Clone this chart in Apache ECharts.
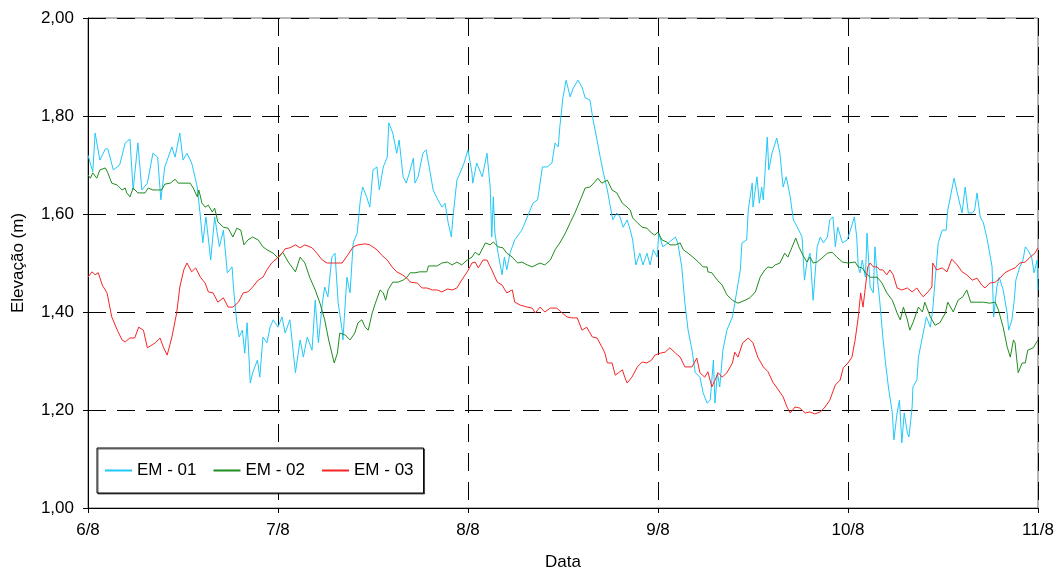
<!DOCTYPE html>
<html>
<head>
<meta charset="utf-8">
<title>Elevação - EM-01, EM-02, EM-03</title>
<script src="https://cdn.jsdelivr.net/npm/echarts@6/dist/echarts.min.js"></script>
<style>
  html, body { margin: 0; padding: 0; background: #fff; }
  #chart { width: 1060px; height: 569px; }
</style>
</head>
<body>
<div id="chart"></div>
<script>
// Day labels on the time axis (hours counted from 6/8 00:00)
const dayLabels = ['6/8', '7/8', '8/8', '9/8', '10/8', '11/8'];
const yTicks = [1.0, 1.2, 1.4, 1.6, 1.8, 2.0];
const seriesNames = ['EM - 01', 'EM - 02', 'EM - 03'];

// Water level, [hour, elevation in m]
const em01 = [
  [0,1.720],[0.6,1.686],[0.9,1.765],[1.5,1.710],[2.2,1.733],[2.5,1.733],[3.2,1.690],[4.0,1.700],[4.7,1.745],[5.3,1.753],
  [5.7,1.649],[6.3,1.745],[6.8,1.649],[7.5,1.663],[8.2,1.724],[8.8,1.716],[9.2,1.629],[9.7,1.696],[10.6,1.737],[11.0,1.716],
  [11.6,1.765],[12.0,1.710],[12.5,1.724],[13.1,1.704],[13.5,1.676],[13.8,1.655],[14.2,1.594],[14.5,1.541],[14.9,1.594],[15.5,1.506],
  [16.0,1.594],[16.6,1.533],[17.1,1.567],[17.6,1.480],[18.2,1.492],[18.4,1.445],[18.8,1.378],[19.1,1.349],[19.5,1.363],[19.8,1.316],
  [20.1,1.378],[20.5,1.255],[20.8,1.276],[21.4,1.302],[21.7,1.267],[22.1,1.349],[22.6,1.337],[23.0,1.369],[23.4,1.384],[24.0,1.369],
  [24.5,1.390],[24.9,1.357],[25.5,1.384],[26.2,1.276],[26.8,1.343],[27.2,1.308],[27.7,1.349],[28.3,1.322],[28.7,1.424],[29.1,1.337],
  [29.6,1.418],[29.9,1.451],[30.3,1.431],[30.8,1.512],[31.2,1.520],[31.6,1.418],[32.1,1.363],[32.2,1.343],[32.7,1.471],[33.1,1.439],
  [33.5,1.541],[34.0,1.561],[34.4,1.629],[34.7,1.655],[35.2,1.635],[35.6,1.614],[36.0,1.690],[36.5,1.696],[36.8,1.649],[37.3,1.696],
  [37.8,1.716],[38.0,1.786],[38.5,1.765],[39.0,1.724],[39.3,1.751],[39.8,1.676],[40.2,1.663],[40.6,1.684],[41.1,1.714],[41.3,1.663],
  [41.7,1.676],[42.3,1.724],[42.7,1.731],[43.1,1.696],[43.6,1.649],[44.2,1.629],[44.7,1.614],[45.1,1.622],[45.5,1.582],[45.9,1.553],
  [46.1,1.594],[46.6,1.669],[47.0,1.684],[47.5,1.704],[48.0,1.731],[48.5,1.684],[48.6,1.663],[49.1,1.704],[49.8,1.676],[50.4,1.724],
  [50.8,1.655],[51.0,1.553],[51.2,1.635],[51.4,1.561],[51.8,1.520],[52.3,1.476],[52.6,1.512],[52.9,1.486],[53.3,1.520],[53.9,1.547],
  [54.8,1.567],[55.5,1.594],[56.2,1.622],[56.8,1.629],[57.4,1.696],[58.0,1.696],[58.6,1.704],[59.0,1.745],[59.4,1.737],[59.6,1.778],
  [60.0,1.839],[60.4,1.873],[60.9,1.839],[61.3,1.857],[61.9,1.873],[62.4,1.859],[62.8,1.837],[63.4,1.833],[63.8,1.792],[64.3,1.751],
  [64.7,1.716],[65.1,1.684],[65.6,1.649],[65.9,1.622],[66.3,1.588],[66.8,1.602],[67.2,1.594],[67.6,1.573],[68.1,1.588],[68.5,1.567],
  [68.8,1.547],[69.2,1.496],[69.7,1.520],[70.1,1.496],[70.6,1.520],[71.0,1.496],[71.4,1.527],[71.9,1.512],[72.1,1.561],[72.6,1.533],
  [73.3,1.541],[73.5,1.541],[74.2,1.553],[74.5,1.541],[75.0,1.492],[75.4,1.418],[75.8,1.363],[76.3,1.322],[76.7,1.276],[77.3,1.267],
  [77.7,1.235],[78.2,1.214],[78.6,1.220],[79.0,1.302],[79.2,1.214],[79.5,1.276],[79.8,1.247],[80.2,1.322],[80.7,1.363],[81.4,1.390],
  [81.7,1.418],[82.4,1.486],[82.6,1.541],[83.2,1.547],[83.4,1.608],[83.9,1.663],[84.0,1.614],[84.5,1.676],[84.8,1.622],[85.1,1.655],
  [85.3,1.629],[85.8,1.757],[86.0,1.690],[86.4,1.724],[87.0,1.755],[87.4,1.724],[87.8,1.655],[88.2,1.676],[88.7,1.635],[89.1,1.588],
  [89.6,1.573],[90.2,1.553],[90.5,1.465],[90.8,1.500],[91.2,1.520],[91.6,1.424],[92.1,1.533],[92.5,1.553],[92.9,1.541],[93.4,1.553],
  [93.7,1.588],[94.1,1.594],[94.4,1.533],[94.7,1.573],[95.3,1.541],[95.9,1.547],[96.3,1.567],[96.8,1.594],[97.1,1.553],[97.3,1.492],
  [97.5,1.480],[97.8,1.506],[98.2,1.471],[98.4,1.561],[98.8,1.451],[99.2,1.439],[99.4,1.533],[99.7,1.471],[100.0,1.424],[100.4,1.349],
  [100.7,1.302],[101.1,1.247],[101.6,1.194],[101.8,1.139],[102.2,1.194],[102.5,1.220],[102.8,1.133],[103.1,1.194],[103.5,1.153],[103.7,1.145],
  [104.1,1.206],[104.2,1.247],[104.7,1.261],[104.9,1.308],[105.4,1.349],[105.9,1.390],[106.4,1.369],[106.7,1.404],[107.0,1.465],[107.4,1.541],
  [107.9,1.567],[108.4,1.567],[108.6,1.608],[109.1,1.649],[109.4,1.673],[109.8,1.643],[110.4,1.602],[110.8,1.655],[111.2,1.602],[111.7,1.602],
  [112.0,1.608],[112.3,1.643],[112.7,1.594],[113.1,1.582],[113.6,1.547],[113.9,1.520],[114.2,1.492],[114.3,1.439],[114.4,1.390],[114.8,1.451],
  [115.1,1.471],[115.6,1.445],[116.1,1.398],[116.3,1.363],[116.7,1.384],[117.0,1.424],[117.2,1.465],[117.7,1.492],[118.1,1.506],[118.4,1.533],
  [118.7,1.527],[119.2,1.512],[119.5,1.480],[119.9,1.506],[120,1.445]
];

const em02 = [
  [0,1.680],[0.3,1.673],[0.6,1.684],[1.1,1.673],[1.5,1.690],[2.2,1.694],[2.5,1.684],[3.0,1.663],[3.7,1.659],[4.3,1.649],
  [4.7,1.653],[4.9,1.643],[5.3,1.635],[5.7,1.653],[6.3,1.643],[7.2,1.643],[7.6,1.653],[8.2,1.649],[8.8,1.649],[9.3,1.649],
  [9.7,1.661],[10.4,1.663],[11.0,1.671],[11.4,1.663],[12.0,1.663],[12.9,1.663],[13.3,1.653],[13.8,1.635],[14.0,1.649],[14.4,1.622],
  [14.8,1.614],[15.2,1.618],[15.7,1.604],[16.0,1.612],[16.4,1.584],[17.1,1.573],[17.7,1.571],[18.3,1.553],[18.8,1.571],[19.3,1.567],
  [19.7,1.537],[20.2,1.547],[20.8,1.553],[21.5,1.547],[22.1,1.533],[22.6,1.527],[23.4,1.520],[24.0,1.510],[24.6,1.522],[25.3,1.502],
  [26.2,1.482],[26.8,1.512],[27.4,1.500],[28.0,1.471],[28.7,1.445],[29.3,1.418],[29.9,1.384],[30.4,1.343],[31.1,1.296],[31.5,1.316],
  [31.8,1.357],[32.5,1.353],[33.1,1.343],[33.7,1.357],[34.1,1.378],[34.6,1.384],[35.0,1.369],[35.4,1.363],[35.9,1.398],[36.3,1.418],
  [36.9,1.445],[37.3,1.439],[37.6,1.424],[37.9,1.445],[38.5,1.461],[39.2,1.461],[39.8,1.465],[40.3,1.471],[40.7,1.480],[41.3,1.480],
  [41.9,1.482],[42.8,1.482],[43.0,1.494],[44.1,1.494],[44.7,1.500],[45.4,1.502],[46.0,1.496],[46.6,1.502],[47.2,1.496],[47.9,1.506],
  [48.5,1.512],[48.9,1.522],[49.4,1.516],[50.2,1.541],[50.8,1.537],[51.2,1.543],[51.8,1.533],[52.4,1.531],[52.9,1.520],[53.6,1.512],
  [53.9,1.506],[54.3,1.500],[54.8,1.502],[55.5,1.496],[56.1,1.492],[57.1,1.500],[57.7,1.496],[58.4,1.506],[59.0,1.527],[59.6,1.541],
  [60.3,1.561],[60.9,1.582],[61.5,1.602],[62.2,1.629],[62.8,1.653],[63.4,1.655],[64.0,1.665],[64.4,1.673],[64.9,1.663],[65.6,1.669],
  [66.2,1.649],[66.8,1.643],[67.5,1.622],[68.1,1.614],[68.5,1.608],[68.8,1.592],[69.4,1.582],[70.0,1.573],[70.6,1.571],[71.2,1.561],
  [71.6,1.557],[72.0,1.563],[72.5,1.547],[73.1,1.543],[73.5,1.537],[74.2,1.537],[74.8,1.541],[75.2,1.527],[75.8,1.520],[76.4,1.512],
  [77.1,1.502],[77.7,1.492],[78.2,1.492],[78.3,1.482],[78.8,1.480],[79.5,1.465],[80.1,1.455],[80.7,1.435],[81.4,1.424],[82.1,1.418],
  [83.0,1.424],[83.6,1.429],[84.3,1.441],[84.9,1.471],[85.5,1.486],[85.9,1.492],[86.4,1.490],[86.8,1.496],[87.4,1.500],[88.0,1.520],
  [88.4,1.512],[88.9,1.531],[89.4,1.551],[89.8,1.533],[90.3,1.516],[90.8,1.502],[91.2,1.512],[91.6,1.500],[92.1,1.502],[92.7,1.510],
  [93.4,1.520],[94.0,1.522],[94.6,1.512],[95.3,1.502],[96.0,1.500],[96.9,1.502],[97.3,1.492],[97.8,1.490],[98.2,1.480],[98.8,1.471],
  [99.7,1.471],[100.3,1.459],[100.9,1.439],[101.6,1.424],[102.2,1.398],[102.6,1.384],[103.0,1.410],[103.5,1.384],[103.8,1.363],[104.2,1.378],
  [104.9,1.410],[105.4,1.400],[105.7,1.420],[106.4,1.390],[107.0,1.373],[107.6,1.378],[108.3,1.398],[108.6,1.420],[109.3,1.400],[109.9,1.424],
  [110.5,1.431],[111.0,1.445],[111.5,1.420],[112.3,1.420],[113.1,1.420],[113.9,1.418],[114.6,1.420],[115.0,1.404],[115.6,1.369],[116.1,1.329],
  [116.5,1.308],[116.9,1.343],[117.1,1.337],[117.5,1.276],[118.0,1.296],[118.4,1.296],[118.7,1.322],[119.4,1.327],[120,1.343]
];

const em03 = [
  [0,1.471],[0.5,1.482],[0.9,1.476],[1.3,1.480],[1.8,1.455],[2.4,1.439],[3.0,1.390],[3.7,1.363],[4.3,1.343],[4.7,1.339],
  [5.3,1.347],[5.9,1.347],[6.4,1.369],[7.0,1.363],[7.5,1.327],[8.1,1.333],[8.5,1.337],[9.1,1.347],[9.5,1.329],[10.0,1.312],
  [10.6,1.349],[11.2,1.398],[11.6,1.451],[12.1,1.486],[12.5,1.500],[13.1,1.482],[13.6,1.490],[14.2,1.471],[14.8,1.459],[15.2,1.441],
  [15.8,1.439],[16.4,1.420],[17.1,1.429],[17.7,1.410],[18.3,1.410],[19.0,1.420],[19.6,1.439],[20.2,1.441],[20.8,1.451],[21.5,1.465],
  [22.1,1.471],[22.6,1.486],[23.2,1.500],[23.9,1.510],[24.5,1.520],[24.9,1.529],[25.5,1.531],[26.2,1.537],[26.8,1.531],[27.4,1.537],
  [28.3,1.531],[28.9,1.520],[29.6,1.506],[30.2,1.500],[31.0,1.500],[32.1,1.500],[32.8,1.516],[33.5,1.533],[34.1,1.537],[35.0,1.539],
  [35.6,1.537],[36.5,1.527],[37.1,1.516],[37.8,1.506],[38.4,1.492],[39.0,1.482],[39.7,1.476],[40.3,1.469],[40.7,1.461],[41.6,1.459],
  [42.2,1.449],[42.8,1.449],[43.5,1.445],[44.1,1.445],[44.7,1.441],[45.4,1.447],[46.0,1.445],[46.6,1.449],[47.2,1.465],[47.9,1.482],
  [48.5,1.500],[48.9,1.502],[49.3,1.490],[49.9,1.506],[50.4,1.506],[51.0,1.486],[51.7,1.461],[52.3,1.455],[52.9,1.439],[53.6,1.445],
  [53.9,1.420],[54.6,1.414],[55.5,1.410],[56.1,1.408],[56.5,1.398],[57.1,1.410],[57.7,1.400],[58.4,1.408],[59.2,1.408],[59.9,1.398],
  [60.5,1.390],[61.1,1.388],[61.8,1.388],[62.4,1.363],[63.0,1.369],[63.7,1.349],[64.3,1.347],[64.9,1.329],[65.3,1.316],[65.6,1.296],
  [66.2,1.296],[66.6,1.271],[67.0,1.276],[67.5,1.282],[67.8,1.267],[68.1,1.255],[68.7,1.267],[69.4,1.288],[70.0,1.298],[70.6,1.296],
  [71.2,1.302],[71.6,1.312],[72.3,1.316],[72.9,1.318],[73.5,1.327],[74.2,1.316],[74.8,1.308],[75.4,1.288],[76.3,1.288],[76.9,1.306],
  [77.3,1.276],[77.9,1.267],[78.3,1.278],[78.8,1.247],[79.2,1.261],[79.6,1.276],[80.1,1.267],[80.7,1.276],[81.4,1.296],[81.7,1.318],
  [82.1,1.308],[82.7,1.337],[83.4,1.347],[84.0,1.337],[84.6,1.308],[85.3,1.288],[85.9,1.278],[86.5,1.257],[87.2,1.241],[87.8,1.227],
  [88.3,1.206],[88.7,1.194],[89.3,1.206],[89.9,1.204],[90.6,1.194],[91.2,1.196],[91.8,1.192],[92.5,1.196],[93.1,1.206],[93.7,1.220],
  [94.4,1.251],[95.0,1.261],[95.4,1.286],[96.0,1.296],[96.5,1.308],[96.9,1.343],[97.3,1.390],[97.6,1.439],[97.9,1.410],[98.2,1.451],
  [98.5,1.492],[98.8,1.500],[99.2,1.492],[99.7,1.492],[100.0,1.486],[100.4,1.486],[100.9,1.476],[101.3,1.486],[101.7,1.476],[102.2,1.449],
  [102.8,1.445],[103.5,1.449],[104.1,1.441],[104.7,1.449],[105.1,1.439],[105.5,1.431],[106.1,1.441],[106.6,1.451],[106.7,1.500],[107.2,1.486],
  [107.9,1.490],[108.5,1.482],[109.1,1.508],[109.8,1.496],[110.4,1.482],[111.0,1.476],[111.7,1.465],[112.3,1.469],[112.9,1.455],[113.3,1.449],
  [113.9,1.459],[114.6,1.461],[115.2,1.469],[115.8,1.480],[116.5,1.486],[117.1,1.490],[117.7,1.500],[118.4,1.502],[119.0,1.512],[119.6,1.520],
  [120,1.531]
];

const seriesData = [em01, em02, em03];
const seriesColors = ['#22c8f8', '#1f8c1f', '#f52525'];

const dashed = { color: '#000', width: 1, type: [18, 11] };
const fontFamily = '"Liberation Sans", Arial, sans-serif';

const chart = echarts.init(document.getElementById('chart'), null, { renderer: 'canvas' });

chart.setOption({
  animation: false,
  backgroundColor: '#fff',
  textStyle: { fontFamily: fontFamily },
  grid: {
    left: 88, right: 22, top: 18, bottom: 61,
    outerBoundsMode: 'none',
    containLabel: false,
    show: true, borderColor: '#6e6e6e', borderWidth: 1, backgroundColor: 'transparent'
  },
  legend: {
    left: 97, top: 448,
    orient: 'horizontal',
    data: seriesNames.map((n, i) => ({ name: n, icon: 'rect', itemStyle: { color: seriesColors[i] } })),
    itemWidth: 27, itemHeight: 2, itemGap: 17,
    padding: [14, 10, 14, 8],
    backgroundColor: '#fff',
    borderColor: '#000', borderWidth: 1,
    shadowColor: 'rgba(0,0,0,0.6)', shadowOffsetX: 1, shadowOffsetY: 1,
    textStyle: { color: '#000', fontSize: 17, fontFamily: fontFamily }
  },
  xAxis: {
    type: 'value',
    min: 0, max: 120, interval: 24,
    name: 'Data', nameLocation: 'middle', nameGap: 46,
    nameTextStyle: { color: '#000', fontSize: 17 },
    axisLine: { show: true, lineStyle: { color: '#000', width: 1 } },
    axisTick: { show: true, length: 5, inside: false, lineStyle: { color: '#000' } },
    axisLabel: {
      color: '#000', fontSize: 17, margin: 14,
      formatter: v => dayLabels[Math.round(v / 24)]
    },
    splitLine: { show: true, lineStyle: dashed }
  },
  yAxis: {
    type: 'value',
    min: yTicks[0], max: yTicks[yTicks.length - 1], interval: 0.2,
    name: 'Elevação (m)', nameLocation: 'middle', nameGap: 61,
    nameTextStyle: { color: '#000', fontSize: 17 },
    axisLine: { show: true, lineStyle: { color: '#000', width: 1 } },
    axisTick: { show: true, length: 5, inside: false, lineStyle: { color: '#000' } },
    axisLabel: {
      color: '#000', fontSize: 17, margin: 14,
      formatter: v => v.toFixed(2).replace('.', ',')
    },
    splitLine: { show: true, lineStyle: dashed }
  },
  series: seriesNames.map((name, i) => ({
    name: name,
    type: 'line',
    data: seriesData[i],
    showSymbol: false,
    symbol: 'none',
    smooth: false,
    color: seriesColors[i],
    lineStyle: { width: 1, color: seriesColors[i] },
    emphasis: { disabled: true },
    z: 3 + i
  }))
});
</script>
</body>
</html>
